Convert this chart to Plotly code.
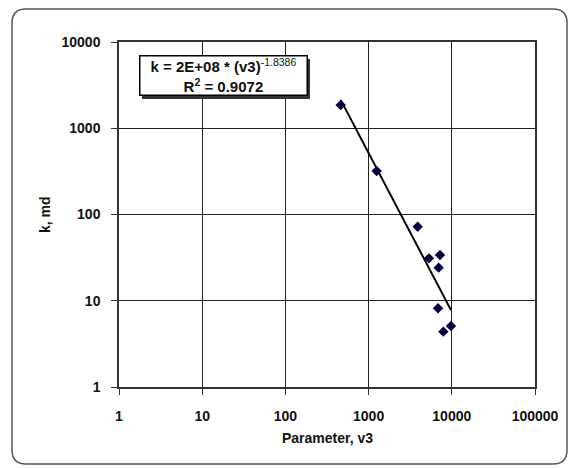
import plotly.graph_objects as go

# ---- data ----
v3 = [462, 1250, 3890, 5320, 7210, 6950, 6820, 9780, 7910]
k_md = [1862, 319, 72, 31, 33.9, 24.2, 8.2, 5.1, 4.38]

TREND_A = 1.69e8
TREND_B = -1.8386

x_tickvals = [1, 10, 100, 1000, 10000, 100000]
x_ticktext = ["1", "10", "100", "1000", "10000", "100000"]
y_tickvals = [1, 10, 100, 1000, 10000]
y_ticktext = ["1", "10", "100", "1000", "10000"]

W, H = 571, 468
L, R, T, B = 119, 535, 42, 387

def px(x):
    return (x - L) / (R - L)

def py(y):
    return (B - y) / (B - T)

FONT = "Arial, Liberation Sans, sans-serif"

trend_x = [min(v3), max(v3)]
trend_y = [TREND_A * xv ** TREND_B for xv in trend_x]

fig = go.Figure()
fig.add_trace(go.Scatter(x=trend_x, y=trend_y, mode="lines",
                         line=dict(color="#000000", width=2), hoverinfo="skip",
                         showlegend=False))
fig.add_trace(go.Scatter(x=v3, y=k_md, mode="markers",
                         marker=dict(symbol="diamond", size=8, color="#000040",
                                     line=dict(width=0)),
                         showlegend=False))

axis_common = dict(type="log", showgrid=True, gridcolor="#222222", gridwidth=1,
                   showline=True, linecolor="#333333", linewidth=1.5, mirror=True,
                   ticks="outside", ticklen=6, tickcolor="#333333", tickwidth=1,
                   zeroline=False,
                   tickfont=dict(family=FONT, size=14, color="#111111"))

fig.update_xaxes(range=[0, 5], tickvals=x_tickvals,
                 ticktext=[f"<b>{t}</b>" for t in x_ticktext],
                 ticklabelstandoff=9, **axis_common)
fig.update_yaxes(range=[0, 4], tickvals=y_tickvals,
                 ticktext=[f"<b>{t}</b>" for t in y_ticktext],
                 ticklabelstandoff=8, **axis_common)

# rounded outer frame
fl, ft, fr, fb, rad = 12, 9, 567, 464, 14
path = (f"M {px(fl+rad)} {py(ft)} L {px(fr-rad)} {py(ft)} "
        f"Q {px(fr)} {py(ft)} {px(fr)} {py(ft+rad)} "
        f"L {px(fr)} {py(fb-rad)} Q {px(fr)} {py(fb)} {px(fr-rad)} {py(fb)} "
        f"L {px(fl+rad)} {py(fb)} Q {px(fl)} {py(fb)} {px(fl)} {py(fb-rad)} "
        f"L {px(fl)} {py(ft+rad)} Q {px(fl)} {py(ft)} {px(fl+rad)} {py(ft)} Z")
shapes = [
    dict(type="path", xref="paper", yref="paper", path=path,
         line=dict(color="#555555", width=1.5), layer="below"),
    # shadow of the equation box
    dict(type="rect", xref="paper", yref="paper",
         x0=px(142), x1=px(310), y0=py(59), y1=py(99),
         fillcolor="#333333", line=dict(width=0), layer="above"),
]

annotations = [
    dict(xref="paper", yref="paper", x=px(223), y=py(76),
         text="<b>k = 2E+08 * (v3)</b><sup>-1.8386</sup><br><b>R<sup>2</sup> = 0.9072</b>",
         showarrow=False, align="center", width=164, height=36,
         bgcolor="#ffffff", bordercolor="#000000", borderwidth=1.5, borderpad=1,
         font=dict(family=FONT, size=15, color="#111111"),
         xanchor="center", yanchor="middle"),
    dict(xref="paper", yref="paper", x=px(327), y=py(438),
         text="<b>Parameter, v3</b>", showarrow=False,
         font=dict(family=FONT, size=14, color="#111111"),
         xanchor="center", yanchor="middle"),
    dict(xref="paper", yref="paper", x=px(45), y=py(215),
         text="<b>k, md</b>", showarrow=False, textangle=-90,
         font=dict(family=FONT, size=14, color="#111111"),
         xanchor="center", yanchor="middle"),
]

fig.update_layout(width=W, height=H,
                  margin=dict(l=L, r=W - R, t=T, b=H - B),
                  paper_bgcolor="#ffffff", plot_bgcolor="#ffffff",
                  shapes=shapes, annotations=annotations, showlegend=False)

fig.write_html("out.html")
